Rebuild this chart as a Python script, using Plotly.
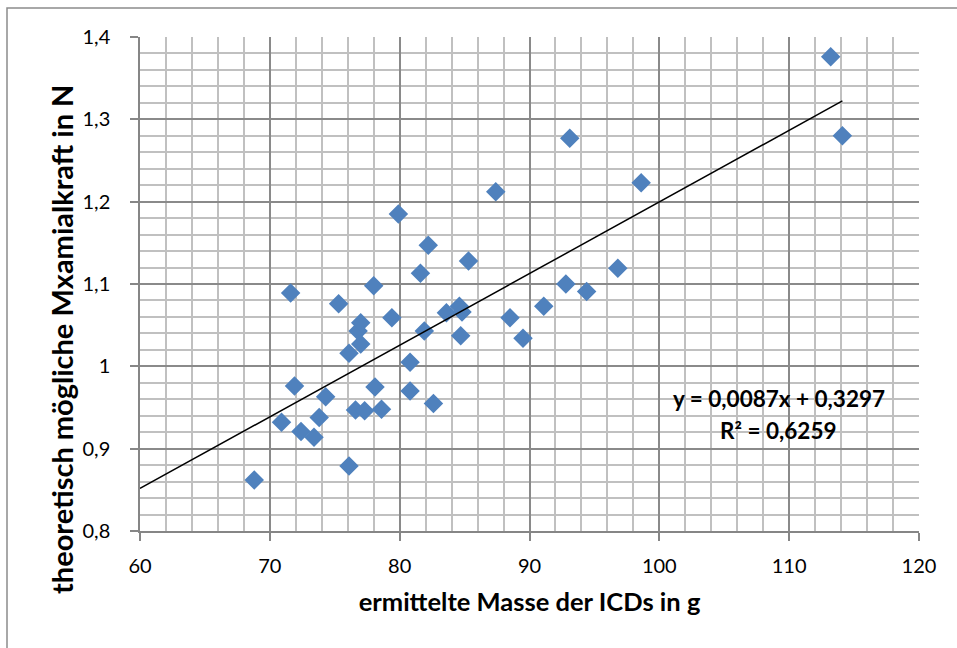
import plotly.graph_objects as go

# Data
masse_g = [68.8, 70.9, 71.6, 71.9, 72.4, 73.4, 73.8, 74.3, 75.3, 76.1, 76.1, 76.6,
           76.8, 77.0, 77.0, 77.3, 78.0, 78.1, 78.6, 79.4, 79.9, 80.8, 80.8, 81.6,
           81.9, 82.2, 82.6, 83.6, 84.6, 84.7, 84.8, 85.3, 87.4, 88.5, 89.5, 91.1,
           92.8, 93.1, 94.4, 96.8, 98.6, 113.2, 114.1]
kraft_N = [0.862, 0.932, 1.089, 0.976, 0.921, 0.914, 0.938, 0.963, 1.076, 1.016, 0.879, 0.947,
           1.043, 1.053, 1.027, 0.946, 1.098, 0.975, 0.948, 1.059, 1.185, 1.005, 0.970, 1.113,
           1.043, 1.147, 0.955, 1.065, 1.073, 1.037, 1.066, 1.128, 1.212, 1.059, 1.034, 1.073,
           1.100, 1.277, 1.091, 1.119, 1.223, 1.376, 1.280]

slope = 0.0087
intercept = 0.3297
equation_text = "y = 0,0087x + 0,3297"
r2_text = "R² = 0,6259"
x_title = "ermittelte Masse der ICDs in g"
y_title = "theoretisch mögliche Mxamialkraft in N"
trend_x = [60, max(masse_g)]
trend_y = [slope * v + intercept for v in trend_x]

W, H = 957, 648
L, R, T, B = 140, 38, 37, 117
pw, ph = W - L - R, H - T - B

font = "Lato, 'Noto Sans', sans-serif"

def px_x(p):
    return (p - L) / pw

def px_y(p):
    return 1 - (p - T) / ph

fig = go.Figure()
fig.add_trace(go.Scatter(
    x=masse_g, y=kraft_N, mode="markers",
    marker=dict(symbol="diamond", size=15, color="#4F81BD", line=dict(width=0)),
    showlegend=False, hoverinfo="x+y"))
fig.add_trace(go.Scatter(
    x=trend_x, y=trend_y, mode="lines",
    line=dict(color="black", width=1.5), showlegend=False, hoverinfo="skip"))

fig.add_annotation(x=px_x(779), y=px_y(398), xref="paper", yref="paper",
                   text="<b>" + equation_text + "</b>", showarrow=False,
                   xanchor="center", yanchor="middle",
                   font=dict(family=font, size=22.5, color="black"))
fig.add_annotation(x=px_x(778), y=px_y(430), xref="paper", yref="paper",
                   text="<b>" + r2_text + "</b>", showarrow=False,
                   xanchor="center", yanchor="middle",
                   font=dict(family=font, size=22.5, color="black"))

# y-axis title (placed as rotated text, as in the reference it extends below the plot)
fig.add_annotation(x=px_x(61), y=px_y(340), xref="paper", yref="paper",
                   text="<b>" + y_title + "</b>", showarrow=False, textangle=-90,
                   xanchor="center", yanchor="middle",
                   font=dict(family=font, size=29, color="black"))

# outer chart frame
fig.add_shape(type="rect", xref="paper", yref="paper",
              x0=px_x(7), x1=px_x(W + 5),
              y0=px_y(H + 5), y1=px_y(8),
              line=dict(color="#8C8C8C", width=1.5), fillcolor="rgba(0,0,0,0)", layer="below")

axis_common = dict(
    showline=True, linecolor="#868686", linewidth=1.5,
    showgrid=True, gridcolor="#8A8A8A", gridwidth=1.5,
    ticks="outside", ticklen=8, tickcolor="#868686", tickwidth=1.5,
    zeroline=False, mirror=False,
    tickfont=dict(family=font, size=20, color="black"),
)

fig.update_xaxes(range=[60, 120], dtick=10, tick0=60,
                 minor=dict(dtick=2, showgrid=True, gridcolor="#C0C0C0", gridwidth=1.5, ticks=""),
                 ticklabelstandoff=8,
                 title=dict(text="<b>" + x_title + "</b>",
                            font=dict(family=font, size=25.5, color="black"), standoff=17),
                 **axis_common)
fig.update_yaxes(range=[0.8, 1.4], dtick=0.1, tick0=0.8,
                 minor=dict(dtick=0.02, showgrid=True, gridcolor="#C0C0C0", gridwidth=1.5, ticks=""),
                 ticklabelstandoff=16,
                 **axis_common)

fig.update_layout(
    width=W, height=H,
    margin=dict(l=L, r=R, t=T, b=B, autoexpand=False),
    paper_bgcolor="white", plot_bgcolor="white",
    separators=", ",
    font=dict(family=font),
)

fig.write_html("out.html", config={"displayModeBar": False},
               post_script="document.body.style.margin='0';document.body.style.overflow='hidden';")
